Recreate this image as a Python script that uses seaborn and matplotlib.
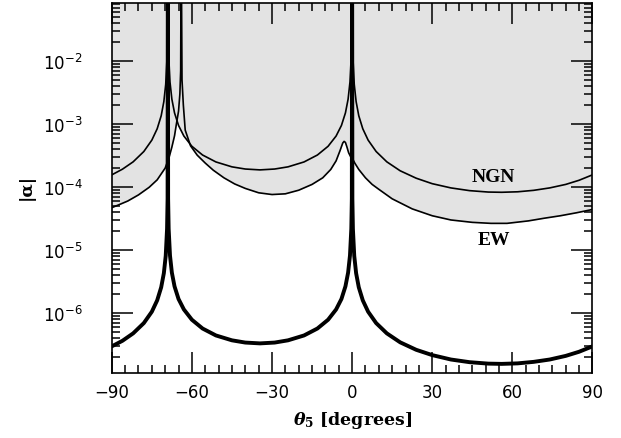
import numpy as np
import pandas as pd
import matplotlib
matplotlib.use("Agg")
import matplotlib.pyplot as plt
import seaborn as sns
from matplotlib.ticker import MultipleLocator, LogLocator, NullFormatter

# ---- data ----
thick_x = [-90, -86, -82, -78, -75, -73, -71.5, -70.5, -69.8, -69.3, -69.1, -69.0, -68.9, -68.7, -68.2,
           -67.5, -66.5, -65, -63, -60, -56, -51, -45, -40, -34.5, -29, -24, -18, -13, -9, -6, -4, -2.5,
           -1.5, -0.8, -0.3, -0.1, 0.0, 0.1, 0.3, 0.8, 1.5, 2.5, 4, 6, 9, 13, 18, 24, 30, 37, 44, 51, 56,
           62, 68, 74, 80, 85, 90]
thick_y = [2.96e-7, 3.63e-7, 4.76e-7, 6.93e-7, 1.05e-6, 1.59e-6, 2.56e-6, 4.29e-6, 8.09e-6, 2.16e-5,
           6.5e-5, 1.0, 6.5e-5, 2.17e-5, 8.18e-6, 4.38e-6, 2.65e-6, 1.67e-6, 1.14e-6, 7.83e-7, 5.68e-7,
           4.41e-7, 3.69e-7, 3.40e-7, 3.30e-7, 3.40e-7, 3.69e-7, 4.41e-7, 5.68e-7, 7.83e-7, 1.14e-6,
           1.67e-6, 2.65e-6, 4.38e-6, 8.18e-6, 2.17e-5, 6.5e-5, 1.0, 6.5e-5, 2.16e-5, 8.09e-6, 4.29e-6,
           2.56e-6, 1.59e-6, 1.05e-6, 6.93e-7, 4.76e-7, 3.43e-7, 2.61e-7, 2.15e-7, 1.83e-7, 1.66e-7,
           1.575e-7, 1.56e-7, 1.59e-7, 1.68e-7, 1.83e-7, 2.09e-7, 2.43e-7, 2.96e-7]

ngn_x = thick_x
ngn_y = [1.56e-4, 1.92e-4, 2.51e-4, 3.66e-4, 5.55e-4, 8.40e-4, 1.35e-3, 2.27e-3, 4.27e-3, 1.14e-2,
         3.4e-2, 1.0, 3.7e-2, 1.23e-2, 4.63e-3, 2.48e-3, 1.50e-3, 9.48e-4, 6.44e-4, 4.43e-4, 3.22e-4,
         2.50e-4, 2.09e-4, 1.93e-4, 1.87e-4, 1.93e-4, 2.09e-4, 2.50e-4, 3.22e-4, 4.43e-4, 6.44e-4,
         9.48e-4, 1.50e-3, 2.48e-3, 4.63e-3, 1.23e-2, 3.7e-2, 1.0, 3.4e-2, 1.14e-2, 4.27e-3, 2.27e-3,
         1.35e-3, 8.40e-4, 5.55e-4, 3.66e-4, 2.51e-4, 1.81e-4, 1.38e-4, 1.13e-4, 9.68e-5, 8.76e-5,
         8.32e-5, 8.25e-5, 8.40e-5, 8.86e-5, 9.68e-5, 1.10e-4, 1.28e-4, 1.56e-4]

ew_x = [-90, -87, -84, -80, -76, -73, -70, -68.5, -67.5, -66.5, -65.8, -65, -64.5, -64.2, -64.0,
        -63.7, -63.2, -62.5, -61.5, -60.5, -58, -55, -52, -48, -44, -40, -35, -30, -25, -20, -15,
        -11, -8, -6, -4.5, -3.5, -3.0, -2.5, -2.0, -1.3, -0.5, 0, 1, 2.5, 5, 7.5, 10, 15, 22.5, 30,
        37, 45, 52, 58, 66, 72, 78, 84, 90]
ew_y = [4.7e-5, 5.3e-5, 6.0e-5, 7.5e-5, 9.9e-5, 1.3e-4, 2.0e-4, 3.0e-4, 4.3e-4, 6.5e-4, 1.0e-3,
        1.6e-3, 3.0e-3, 7.0e-3, 1.0, 5.0e-3, 2.0e-3, 8.0e-4, 6.0e-4, 4.5e-4, 3.2e-4, 2.4e-4, 1.85e-4,
        1.4e-4, 1.12e-4, 9.5e-5, 8.1e-5, 7.6e-5, 7.8e-5, 8.9e-5, 1.1e-4, 1.4e-4, 1.9e-4, 2.6e-4,
        3.8e-4, 5.0e-4, 5.3e-4, 5.1e-4, 4.4e-4, 3.5e-4, 3.0e-4, 2.9e-4, 2.4e-4, 1.9e-4, 1.4e-4,
        1.1e-4, 9.2e-5, 6.5e-5, 4.5e-5, 3.5e-5, 3.0e-5, 2.75e-5, 2.65e-5, 2.65e-5, 2.9e-5, 3.2e-5,
        3.5e-5, 3.9e-5, 4.4e-5]

x_ticks = [-90, -60, -30, 0, 30, 60, 90]
labels = {"NGN": (53, 1.45e-4), "EW": (53, 1.45e-5)}

# ---- plotting ----
sns.set_style("ticks")
plt.rcParams["font.family"] = ["DejaVu Sans"]
plt.rcParams["text.color"] = "black"
plt.rcParams["axes.labelcolor"] = "black"
plt.rcParams["xtick.color"] = "black"
plt.rcParams["ytick.color"] = "black"
plt.rcParams["mathtext.fontset"] = "custom"
plt.rcParams["mathtext.it"] = "DejaVu Serif:italic:bold"
plt.rcParams["mathtext.rm"] = "DejaVu Serif:bold"
plt.rcParams["mathtext.bf"] = "DejaVu Serif:bold"

fig = plt.figure(figsize=(6.21, 4.39), dpi=100)
ax = fig.add_axes([0.18, 0.148, 0.774, 0.843])
ax.set_yscale("log")
ax.set_axisbelow(False)

gray = "#e3e3e3"
ax.fill_between(ngn_x, ngn_y, 10.0, color=gray, lw=0, zorder=1)
ax.fill_between(ew_x, ew_y, 10.0, color=gray, lw=0, zorder=1)

df_ngn = pd.DataFrame({"x": ngn_x, "y": ngn_y})
df_ew = pd.DataFrame({"x": ew_x, "y": ew_y})
df_thick = pd.DataFrame({"x": thick_x, "y": thick_y})
sns.lineplot(data=df_ngn, x="x", y="y", ax=ax, color="black", lw=1.2, sort=False, zorder=3)
sns.lineplot(data=df_ew, x="x", y="y", ax=ax, color="black", lw=1.2, sort=False, zorder=3)
sns.lineplot(data=df_thick, x="x", y="y", ax=ax, color="black", lw=2.8, sort=False, zorder=4)

ax.set_xlim(-90, 90)
ax.set_ylim(1.117e-7, 0.0834)
ax.set_xticks(x_ticks)
ax.xaxis.set_minor_locator(MultipleLocator(5))
ax.yaxis.set_major_locator(LogLocator(base=10, numticks=20))
ax.yaxis.set_minor_locator(LogLocator(base=10, subs=np.arange(2, 10), numticks=20))
ax.yaxis.set_minor_formatter(NullFormatter())

ax.tick_params(which="both", direction="in", top=True, right=True, colors="black", width=1.1)
ax.tick_params(which="major", length=15, labelsize=12)
ax.tick_params(axis="x", which="major", pad=7)
ax.tick_params(axis="y", which="major", pad=21)
ax.tick_params(which="minor", length=6)
for s in ax.spines.values():
    s.set_linewidth(1.2)
    s.set_color("black")
    s.set_zorder(6)

ax.set_xlabel(r"$\theta_5$ [degrees]", fontsize=12.5, fontweight="bold", family="DejaVu Serif",
              color="black")
ax.xaxis.set_label_coords(0.5, -0.097)
ax.set_ylabel("|α|", fontsize=12.5, fontweight="bold", family="DejaVu Serif", color="black")
ax.yaxis.set_label_coords(-0.16, 0.505)

for txt, (lx, ly) in labels.items():
    ax.text(lx, ly, txt, ha="center", va="center", fontsize=14, fontweight="bold",
            family="Liberation Serif", color="black", zorder=5)

fig.savefig("out.png", dpi=100)
